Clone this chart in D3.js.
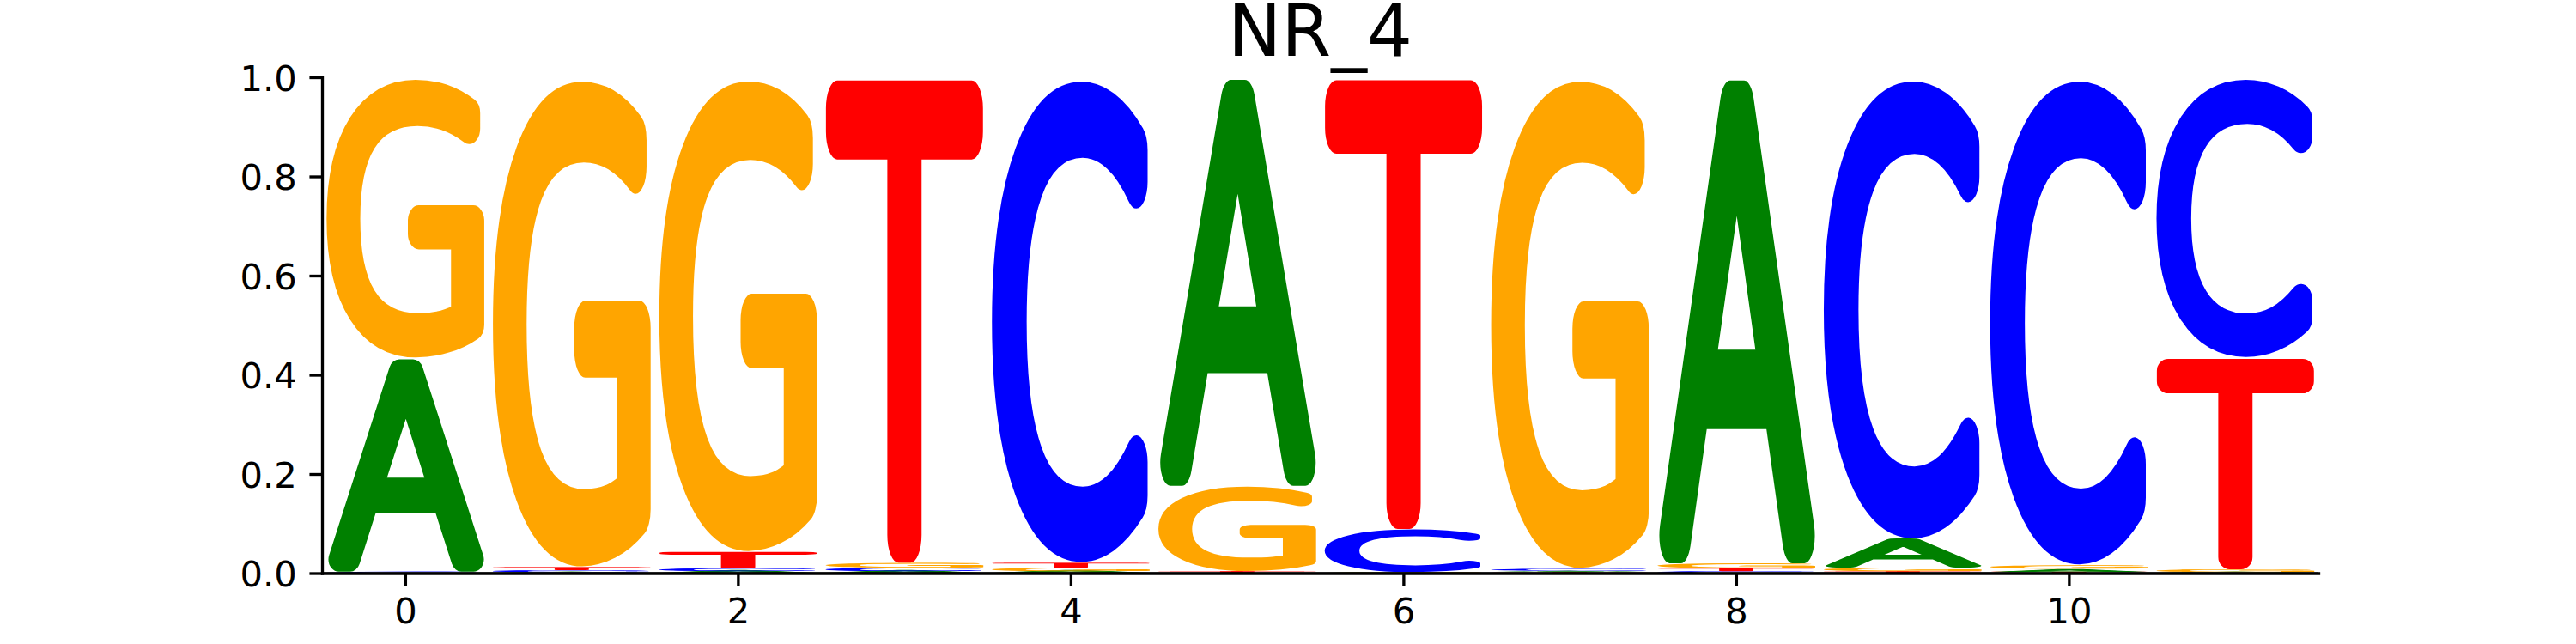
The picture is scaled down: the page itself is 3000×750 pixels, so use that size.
<!DOCTYPE html>
<html>
<head>
<meta charset="utf-8">
<script src="https://cdn.jsdelivr.net/npm/d3@7"></script>
<style>
  body { margin: 0; background: #fff; }
  svg { display: block; }
</style>
</head>
<body>
<div id="root"></div>
<script>
// logo data: probability of each base at each position
const title = "NR_4";
const positions = [0, 1, 2, 3, 4, 5, 6, 7, 8, 9, 10, 11];
const bases = ["A", "C", "G", "T"];
const probA = [0.431, 0.002, 0.004, 0.004, 0.004, 0.824, 0.001, 0.003, 0.980, 0.058, 0.006, 0.002];
const probC = [0.002, 0.004, 0.006, 0.007, 0.979, 0.001, 0.087, 0.004, 0.004, 0.931, 0.984, 0.565];
const probG = [0.566, 0.988, 0.957, 0.010, 0.007, 0.172, 0.001, 0.991, 0.010, 0.007, 0.007, 0.006];
const probT = [0.001, 0.006, 0.033, 0.979, 0.010, 0.003, 0.911, 0.002, 0.006, 0.004, 0.003, 0.427];
const xTicks = [0, 2, 4, 6, 8, 10];
const yTicks = [0.0, 0.2, 0.4, 0.6, 0.8, 1.0];

const colors = { A: "#008000", C: "#0000ff", G: "#ffa500", T: "#ff0000" };
const probs = { A: probA, C: probC, G: probG, T: probT };

const W = 3000, H = 750;
const margin = { top: 90, right: 300, bottom: 82.5, left: 375 };
const pt = 300 / 72;  // figure drawn at 300 dpi
const font = "DejaVu Sans";

const x = d3.scaleLinear().domain([-0.5, 11.5]).range([margin.left, W - margin.right]);
const y = d3.scaleLinear().domain([0, 1]).range([H - margin.bottom, margin.top]);

const svg = d3.select("#root").append("svg")
  .attr("width", W)
  .attr("height", H);

// the reference glyphs come from a rounded font; fake it with a thin face
// plus a fat round-joined stroke (uses ExtraLight when it's installed)
const FS = 1000;
const ctx = document.createElement("canvas").getContext("2d");
function inkWidth(weight, ch) {
  ctx.font = `${weight} ${FS}px "${font}"`;
  const m = ctx.measureText(ch);
  return m.actualBoundingBoxLeft + m.actualBoundingBoxRight;
}
const light = inkWidth(200, "l") < 0.07 * FS;
const glyphWeight = light ? 200 : 400;
const strokeW = (light ? 0.095 : 0.055) * FS;

ctx.font = `${glyphWeight} ${FS}px "${font}"`;
const box = {};
bases.forEach(b => {
  const m = ctx.measureText(b);
  box[b] = {
    l: -m.actualBoundingBoxLeft - strokeW / 2,
    r: m.actualBoundingBoxRight + strokeW / 2,
    t: -m.actualBoundingBoxAscent - strokeW / 2,
    b: m.actualBoundingBoxDescent + strokeW / 2
  };
});

// stack letters, smallest at the bottom
const glyphs = [];
positions.forEach((p, i) => {
  const order = bases.map(b => ({ b, v: probs[b][i] })).sort((a, c) => a.v - c.v);
  let floor = 0;
  order.forEach(o => {
    glyphs.push({ pos: p, base: o.b, y0: floor, y1: floor + o.v });
    floor += o.v;
  });
});

const glyphWidth = 0.96;

svg.append("g").attr("class", "glyphs")
  .selectAll("text").data(glyphs).enter().append("text")
  .text(d => d.base)
  .attr("x", 0)
  .attr("y", 0)
  .attr("font-family", font)
  .attr("font-weight", glyphWeight)
  .attr("font-size", FS)
  .attr("fill", d => colors[d.base])
  .attr("stroke", d => colors[d.base])
  .attr("stroke-width", strokeW)
  .attr("stroke-linejoin", "round")
  .attr("stroke-linecap", "round")
  .attr("transform", d => {
    const bb = box[d.base];
    const x0 = x(d.pos - glyphWidth / 2), x1 = x(d.pos + glyphWidth / 2);
    const top = y(d.y1), bottom = y(d.y0);
    const sx = (x1 - x0) / (bb.r - bb.l);
    const sy = (bottom - top) / (bb.b - bb.t);
    return `translate(${x0},${top}) scale(${sx},${sy}) translate(${-bb.l},${-bb.t})`;
  });

// baseline
svg.append("line")
  .attr("x1", x(-0.5)).attr("x2", x(11.5))
  .attr("y1", y(0)).attr("y2", y(0))
  .attr("stroke", "#000")
  .attr("stroke-width", 0.5 * pt);

const tickLen = 3.5 * pt;
const lw = 0.8 * pt;
const tickFont = 10 * pt;

const yAxis = d3.axisLeft(y).tickValues(yTicks).tickFormat(d3.format(".1f"))
  .tickSize(tickLen).tickSizeOuter(0).tickPadding(tickLen);
const xAxis = d3.axisBottom(x).tickValues(xTicks).tickFormat(d3.format("d"))
  .tickSize(tickLen).tickSizeOuter(0).tickPadding(tickLen);

const gy = svg.append("g")
  .attr("class", "y-axis")
  .attr("transform", `translate(${margin.left},0)`)
  .call(yAxis);
const gx = svg.append("g")
  .attr("class", "x-axis")
  .attr("transform", `translate(0,${H - margin.bottom})`)
  .call(xAxis);

[gx, gy].forEach(g => {
  g.attr("font-family", font).attr("font-size", tickFont);
  g.select(".domain").attr("stroke-width", lw).attr("stroke-linecap", "square");
  g.selectAll(".tick line").attr("stroke-width", lw);
  g.selectAll(".tick text").attr("fill", "#000");
});
gy.selectAll(".tick text").attr("dy", "0.365em");

svg.append("text")
  .attr("x", (x(-0.5) + x(11.5)) / 2)
  .attr("y", margin.top - 6 * pt)
  .attr("text-anchor", "middle")
  .attr("font-family", font)
  .attr("font-size", 20 * pt)
  .text(title);
</script>
</body>
</html>
